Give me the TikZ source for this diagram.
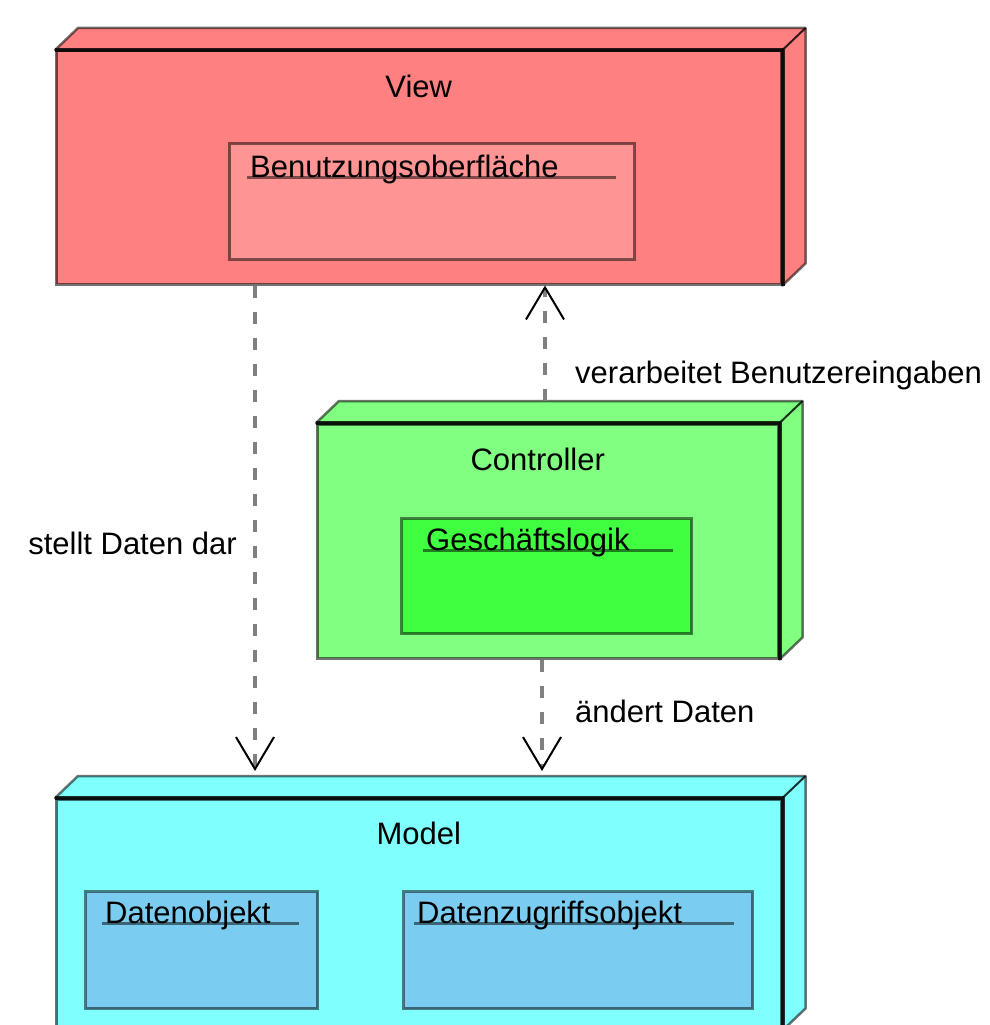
\documentclass[tikz,border=0pt]{standalone}
\usepackage{fontspec}
\setmainfont{Liberation Sans}
\usetikzlibrary{arrows.meta, positioning, calc}
\definecolor{viewred}{HTML}{FF8080}
\definecolor{viewinner}{HTML}{FF9494}
\definecolor{ctrlgreen}{HTML}{80FF80}
\definecolor{ctrlinner}{HTML}{40FF40}
\definecolor{modelcyan}{HTML}{80FFFF}
\definecolor{modelinner}{HTML}{7ACCF0}
\definecolor{deplinegray}{HTML}{808080}

\tikzset{
  every node/.style={font=\fontsize{31}{37}\selectfont, inner sep=0pt},
  frontface/.style={draw=black, draw opacity=0.55, line width=2.5pt, anchor=north west},
  sideface/.style={draw=black, draw opacity=0.55, line width=2.5pt, line join=round},
  frontedge/.style={draw=black, draw opacity=0.8, line width=4pt, line join=round},
  partbox/.style={draw=black, draw opacity=0.5, line width=3pt, anchor=north west},
  partline/.style={draw=black, draw opacity=0.5, line width=3pt},
  dep/.style={deplinegray, line width=4.5pt, dash pattern=on 12pt off 14pt,
    -{Straight Barb[length=32pt, width=38pt, line width=2pt, color=black]}},
}

\begin{document}
\begin{tikzpicture}[x=1pt, y=-1pt]
  \clip (0,0) rectangle (989,1025);
  % Front faces of the three tiers
  \node[frontface, fill=viewred, minimum width=725pt, minimum height=233pt] (view) at (55,50) {};
  \node[frontface, fill=ctrlgreen, minimum width=461pt, minimum height=234pt] (ctrl) at (316,423) {};
  \node[frontface, fill=modelcyan, minimum width=725pt, minimum height=230pt] (model) at (55,798) {};
  % Top and right faces
  \foreach \b/\c in {view/viewred, ctrl/ctrlgreen, model/modelcyan} {
    \filldraw[sideface, fill=\c] (\b.north west) -- ++(23,-22)
      -- ([shift={(23,-22)}]\b.north east) -- ([shift={(23,-22)}]\b.south east)
      -- (\b.south east) -- (\b.north east) -- cycle;
    \draw[frontedge] (\b.south east) -- (\b.north east) -- (\b.north west);
    \draw[frontedge, line width=2pt] (\b.north east) -- ++(23,-22);
    \coordinate (\b back) at ([shift={(23,-22)}]\b.north west);
  }
  % Titles
  \node[anchor=base] (viewtitle) at ([yshift=-47pt]view.north) {View};
  \node[anchor=base] (ctrltitle) at ([xshift=-10pt, yshift=-47pt]ctrl.north) {Controller};
  \node[anchor=base] (modeltitle) at ([yshift=-46pt]model.north) {Model};
  % Components
  \node[partbox, fill=viewinner, minimum width=405pt, minimum height=116pt] (benutz) at (228,142) {};
  \node[partbox, fill=ctrlinner, minimum width=290pt, minimum height=115pt] (logik) at (400,517) {};
  \node[partbox, fill=modelinner, minimum width=232pt, minimum height=117pt] (datenobj) at (84,890) {};
  \node[partbox, fill=modelinner, minimum width=349pt, minimum height=117pt] (zugriff) at (402,890) {};
  \node[anchor=base west] (benutztext) at ([xshift=22pt, yshift=-35pt]benutz.north west) {Benutzungsoberfläche};
  \node[anchor=base west] (logiktext) at ([xshift=26pt, yshift=-33pt]logik.north west) {Geschäftslogik};
  \node[anchor=base west] (datenobjtext) at ([xshift=21pt, yshift=-33pt]datenobj.north west) {Datenobjekt};
  \node[anchor=base west] (zugrifftext) at ([xshift=15pt, yshift=-33pt]zugriff.north west) {Datenzugriffsobjekt};
  \foreach \t/\p in {benutztext/benutz, logiktext/logik, datenobjtext/datenobj, zugrifftext/zugriff}
    \draw[partline] ([xshift=-3pt]\t.base west) -- ([xshift=-20pt]\p.east |- \t.base);
  % Dependencies
  \coordinate (darst) at (255,0);
  \coordinate (verarb) at (545,0);
  \coordinate (aendern) at (542,0);
  \draw[dep] (view.south -| darst) -- ([yshift=5pt]modelback -| darst);
  \draw[dep] (ctrlback -| verarb) -- (view.south -| verarb);
  \draw[dep] (ctrl.south -| aendern) -- ([yshift=5pt]modelback -| aendern);
  \node[anchor=base east] (darsttext) at (237,554) {stellt Daten dar};
  \node[anchor=base west] (verarbtext) at (575,383) {verarbeitet Benutzereingaben};
  \node[anchor=base west] (aenderntext) at (575,722) {ändert Daten};
\end{tikzpicture}
\end{document}
